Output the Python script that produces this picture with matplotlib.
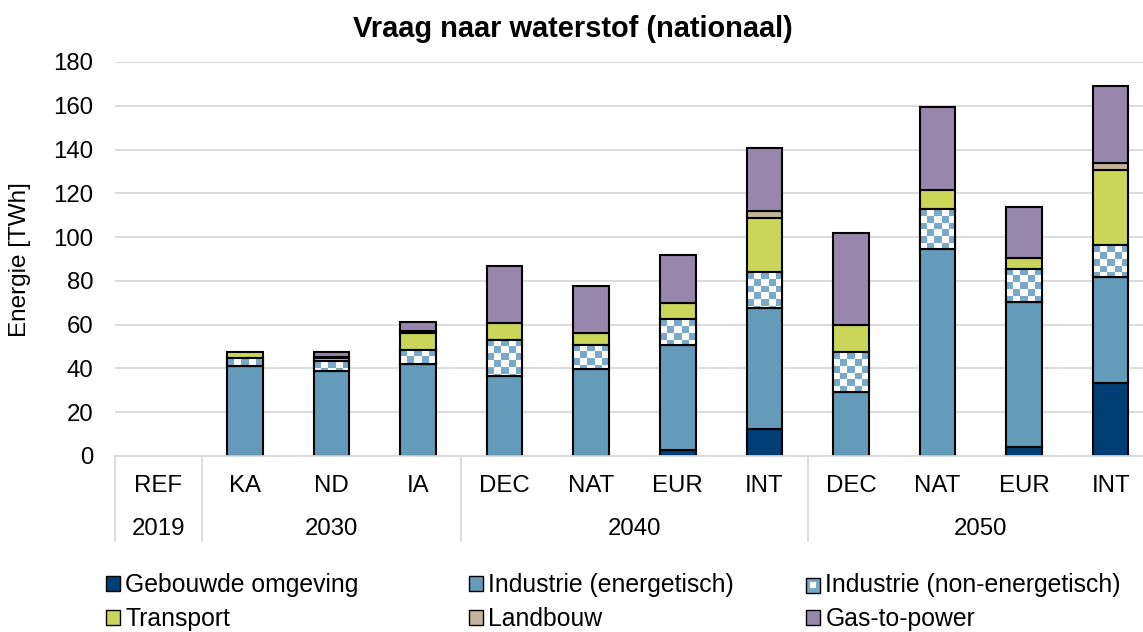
import numpy as np
import matplotlib
matplotlib.use("Agg")
import matplotlib.pyplot as plt
from matplotlib.patches import Patch, Rectangle
import matplotlib.transforms as mtransforms

plt.rcParams['font.family'] = ['Liberation Sans', 'DejaVu Sans']

# ---------------- data ----------------
scenarios = ['REF', 'KA', 'ND', 'IA', 'DEC', 'NAT', 'EUR', 'INT', 'DEC', 'NAT', 'EUR', 'INT']
years = ['2019', '2030', '2040', '2050']
year_counts = [1, 3, 4, 4]

gebouwde = [0, 0, 0, 0, 0, 0, 2.7, 12.2, 0, 0, 4.3, 33.5]
industrie_en = [0, 41.1, 39.0, 42.0, 36.5, 39.6, 48.0, 55.6, 29.4, 94.6, 65.9, 48.4]
industrie_ne = [0, 3.5, 4.4, 6.4, 16.5, 11.1, 11.7, 16.4, 18.1, 18.2, 15.2, 14.5]
transport = [0, 3.0, 1.4, 7.9, 7.9, 5.6, 7.3, 24.7, 12.3, 8.7, 5.2, 34.3]
landbouw = [0, 0, 0.3, 0.8, 0, 0, 0, 3.2, 0, 0, 0, 3.3]
gas_to_power = [0, 0, 2.5, 4.0, 26.0, 21.2, 22.1, 28.5, 42.1, 37.8, 23.1, 35.0]

series_names = ['Gebouwde omgeving', 'Industrie (energetisch)', 'Industrie (non-energetisch)',
                'Transport', 'Landbouw', 'Gas-to-power']
series_vals = [gebouwde, industrie_en, industrie_ne, transport, landbouw, gas_to_power]
colors = ['#003F75', '#659BBA', '#FFFFFF', '#C9D65A', '#C4B49C', '#9787AC']
checker_blue = '#78A9C8'

title = 'Vraag naar waterstof (nationaal)'
ylabel = 'Energie [TWh]'

FS = 17.3
LFS = 17.8

# ---------------- figure ----------------
W, H = 1143, 632
fig = plt.figure(figsize=(W / 100, H / 100), dpi=100)
ax_left, ax_right, ax_top, ax_bot = 115, 1154, 62, 456
ax = fig.add_axes([ax_left / W, 1 - ax_bot / H, (ax_right - ax_left) / W, (ax_bot - ax_top) / H])

x = np.arange(len(scenarios))
bw = 0.41
grid_c = '#D9D9D9'
ax.set_xlim(-0.5, len(scenarios) - 0.5)
ax.set_ylim(0, 180)
ax.set_yticks(np.arange(0, 181, 20))
ax.yaxis.grid(True, color=grid_c, linewidth=1.3)
ax.set_axisbelow(True)
for s in ['top', 'right', 'left']:
    ax.spines[s].set_visible(False)
ax.spines['bottom'].set_color(grid_c)
ax.spines['bottom'].set_linewidth(1.3)
ax.tick_params(axis='y', length=0, pad=15.5, labelsize=FS)
ax.tick_params(axis='x', length=0, labelbottom=False)
ax.set_xticks([])

px_per_unit = (ax_bot - ax_top) / 180.0
sq_px = 6.8
edge_lw = 1.5

bottom = np.zeros(len(scenarios))
for name, vals, col in zip(series_names, series_vals, colors):
    v = np.array(vals, dtype=float)
    m = v > 0
    bars = ax.bar(x[m], v[m], bw, bottom=bottom[m], color=col, edgecolor='black',
                  linewidth=edge_lw, zorder=2)
    if name == 'Industrie (non-energetisch)':
        for rect in bars:
            x0, y0 = rect.get_x(), rect.get_y()
            w, h = rect.get_width(), rect.get_height()
            ncols = 5
            sq_y = sq_px / px_per_unit
            nrows = int(np.ceil(h / sq_y))
            rgb_w = np.array([1.0, 1.0, 1.0])
            rgb_b = np.array(matplotlib.colors.to_rgb(checker_blue))
            img = np.zeros((nrows, ncols, 3))
            for r in range(nrows):
                for c in range(ncols):
                    img[r, c] = rgb_b if (r + c) % 2 == 0 else rgb_w
            im = ax.imshow(img, extent=(x0, x0 + w, y0 + h - nrows * sq_y, y0 + h),
                           aspect='auto', interpolation='nearest', zorder=2.1, origin='upper')
            im.set_clip_path(rect)
            ax.add_patch(Rectangle((x0, y0), w, h, facecolor='none', edgecolor='black',
                                   linewidth=edge_lw, zorder=2.2))
    bottom = bottom + v

ax.set_xlim(-0.5, len(scenarios) - 0.5)
ax.set_ylim(0, 180)

# ---------------- category axis ----------------
trans = mtransforms.blended_transform_factory(ax.transData, ax.transAxes)
ax_h = ax_bot - ax_top
y_scen = -(486 - ax_bot) / ax_h
y_year = -(529 - ax_bot) / ax_h
y_line = -(541 - ax_bot) / ax_h
for xi, s in zip(x, scenarios):
    ax.text(xi, y_scen, s, transform=trans, ha='center', va='center', fontsize=FS)
start = 0
bounds = [-0.5]
for yr, cnt in zip(years, year_counts):
    centre = start + (cnt - 1) / 2
    ax.text(centre, y_year, yr, transform=trans, ha='center', va='center', fontsize=FS)
    start += cnt
    bounds.append(start - 0.5)
for b in bounds:
    ax.plot([b, b], [0, y_line], transform=trans, color=grid_c, linewidth=1.3, clip_on=False)

# ---------------- titles ----------------
fig.text(573 / W, 1 - 29 / H, title, ha='center', va='center', fontsize=20.9, fontweight='bold')
fig.text(20 / W, 1 - 260 / H, ylabel, ha='center', va='center', rotation=90, fontsize=17.5)


# ---------------- legend ----------------
class CheckerHandler:
    def legend_artist(self, legend, orig_handle, fontsize, handlebox):
        x0, y0 = handlebox.xdescent, handlebox.ydescent
        w, h = handlebox.width, handlebox.height
        outer = Rectangle((x0, y0), w, h, facecolor=checker_blue, edgecolor='black',
                          linewidth=1.0, transform=handlebox.get_transform())
        inner = Rectangle((x0 + w * 0.3, y0 + h * 0.3), w * 0.4, h * 0.4, facecolor='white',
                          edgecolor='none', transform=handlebox.get_transform())
        handlebox.add_artist(outer)
        handlebox.add_artist(inner)
        return outer


handles = []
for name, col in zip(series_names, colors):
    if name == 'Industrie (non-energetisch)':
        handles.append(Patch(facecolor=checker_blue, label=name))
    else:
        handles.append(Patch(facecolor=col, edgecolor='black', linewidth=1.0))

checker_handle = handles[2]
col_x = [106, 469, 806]
for ci in range(3):
    idx = [ci, ci + 3]
    fig.legend([handles[i] for i in idx], [series_names[i] for i in idx],
               loc='upper left', bbox_to_anchor=(col_x[ci] / W, 1 - 573 / H),
               frameon=False, fontsize=LFS, handlelength=0.58, handleheight=0.58,
               handletextpad=0.2, labelspacing=0.42, borderpad=0, borderaxespad=0,
               handler_map={checker_handle: CheckerHandler()})

fig.savefig('out.png', dpi=100)
